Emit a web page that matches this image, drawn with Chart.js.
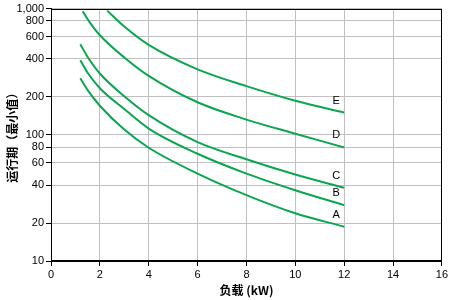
<!DOCTYPE html>
<html>
<head>
<meta charset="utf-8">
<script src="https://cdn.jsdelivr.net/npm/chart.js@4"></script>
<style>
  html, body { margin: 0; padding: 0; background: #fff; }
  #wrap { width: 450px; height: 300px; }
</style>
</head>
<body>
<div id="wrap"><canvas id="runtimeChart"></canvas></div>
<script>
// loads (kW) where each curve was read
const loadsABC = [1.2, 1.5, 2, 3, 4, 6, 8, 10, 12];
const loadsD = [1.3, 1.6, 2, 3, 4, 6, 8, 10, 12];
const loadsE = [2.3, 3, 4, 6, 8, 10, 12];

// runtime (minutes)
const runtimeA = [281, 226, 170, 110, 79, 49.3, 33.3, 23.9, 18.7];
const runtimeB = [390, 310, 234, 160, 112, 70.8, 49.3, 36.4, 27.7];
const runtimeC = [521, 414, 306, 202, 143, 87.5, 64, 48.4, 38];
const runtimeD = [952, 770, 615, 410, 293, 181, 132, 102, 79.4];
const runtimeE = [964, 720, 515, 330, 243, 186, 150];

const curveNames = ["A", "B", "C", "D", "E"];
const yTickValues = [10, 20, 40, 60, 80, 100, 200, 400, 600, 800, 1000];

const lineColor = "#0aa650";
const gridColor = "#c0c0c0";

function toPoints(xs, ys) {
  return xs.map((x, i) => ({ x, y: ys[i] }));
}

const seriesData = [
  toPoints(loadsABC, runtimeA),
  toPoints(loadsABC, runtimeB),
  toPoints(loadsABC, runtimeC),
  toPoints(loadsD, runtimeD),
  toPoints(loadsE, runtimeE)
];

// black frame round the plot area
const frame = {
  id: "frame",
  afterDatasetsDraw(chart) {
    const { ctx, chartArea: a } = chart;
    ctx.save();
    ctx.strokeStyle = "#000";
    ctx.lineWidth = 1;
    ctx.strokeRect(Math.round(a.left) + 0.5, Math.round(a.top) + 0.5,
      Math.round(a.right - a.left) - 1, Math.round(a.bottom - a.top) - 1);
    ctx.restore();
  }
};

// letter over the end of each curve
const curveLabels = {
  id: "curveLabels",
  afterDatasetsDraw(chart) {
    const { ctx, scales } = chart;
    ctx.save();
    ctx.font = "11px 'Liberation Sans', Arial, sans-serif";
    ctx.fillStyle = "#000";
    ctx.textAlign = "center";
    ctx.textBaseline = "middle";
    chart.data.datasets.forEach(ds => {
      const last = ds.data[ds.data.length - 1];
      const px = scales.x.getPixelForValue(last.x) - 8;
      const py = scales.y.getPixelForValue(last.y) - 12;
      ctx.fillText(ds.label, px, py);
    });
    ctx.restore();
  }
};

const tickFont = { family: "'Liberation Sans', Arial, sans-serif", size: 11 };
const titleFont = { family: "'Noto Sans CJK SC', sans-serif", size: 12, weight: "bold" };

new Chart(document.getElementById("runtimeChart"), {
  type: "line",
  data: {
    datasets: curveNames.map((name, i) => ({
      label: name,
      data: seriesData[i],
      borderColor: lineColor,
      borderWidth: 2,
      pointRadius: 0,
      cubicInterpolationMode: "monotone",
      fill: false
    }))
  },
  options: {
    responsive: true,
    maintainAspectRatio: false,
    animation: false,
    layout: { padding: { left: 0, top: 7, right: 7, bottom: 0 } },
    plugins: {
      legend: { display: false },
      tooltip: { enabled: false }
    },
    scales: {
      x: {
        type: "linear",
        min: 0,
        max: 16,
        ticks: { stepSize: 2, color: "#000", font: tickFont, padding: 2, maxRotation: 0 },
        grid: { color: gridColor, tickColor: "#000", tickLength: 5 },
        border: { color: "#000" },
        title: { display: true, text: "负载 (kW)", color: "#000", font: titleFont, padding: { top: 0, bottom: 2 } },
        afterFit(scale) { scale.height = 39; }
      },
      y: {
        type: "logarithmic",
        min: 10,
        max: 1000,
        afterBuildTicks(scale) {
          scale.ticks = yTickValues.map(v => ({ value: v }));
        },
        ticks: {
          color: "#000",
          font: tickFont,
          padding: 2,
          callback: value => value.toLocaleString("en-US")
        },
        grid: { color: gridColor, tickColor: "#000", tickLength: 5 },
        border: { color: "#000" },
        title: { display: true, text: "运行期（最小值）", color: "#000", font: titleFont, padding: { top: 5, bottom: 0 } },
        afterFit(scale) { scale.width = 51; }
      }
    }
  },
  plugins: [frame, curveLabels]
});
</script>
</body>
</html>
